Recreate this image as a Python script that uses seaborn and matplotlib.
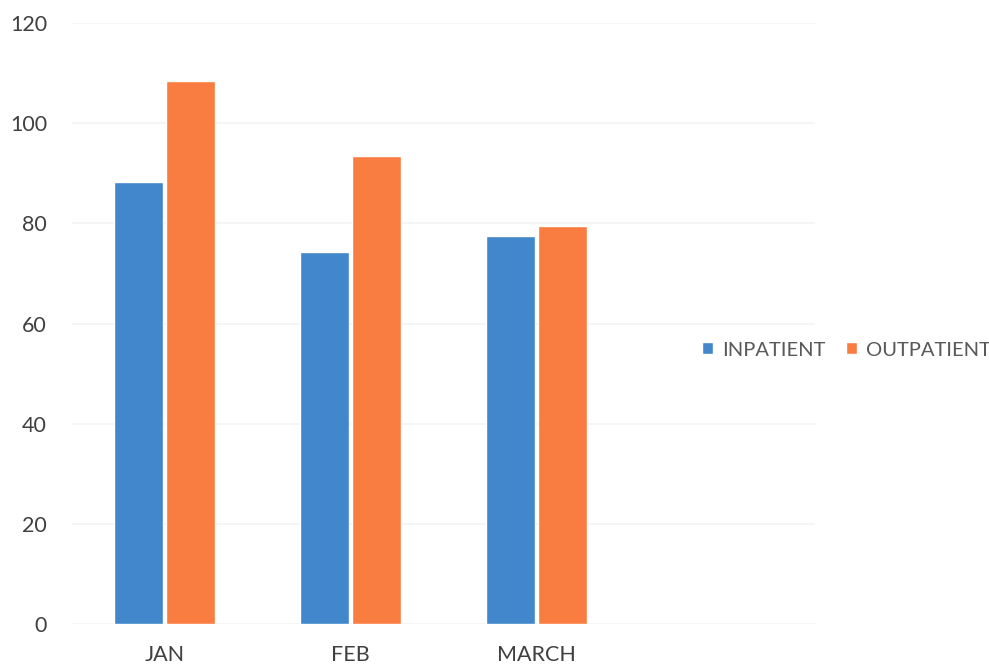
import matplotlib
matplotlib.use("Agg")
import matplotlib.pyplot as plt
import seaborn as sns
import pandas as pd

months = ["JAN", "FEB", "MARCH"]
inpatient = [88.2, 74.2, 77.4]
outpatient = [108.5, 93.4, 79.4]
series_names = ["INPATIENT", "OUTPATIENT"]
y_ticks = [0, 20, 40, 60, 80, 100, 120]

df = pd.DataFrame({
    "month": months * 2,
    "count": inpatient + outpatient,
    "type": [series_names[0]] * len(months) + [series_names[1]] * len(months),
})

sns.set_theme(style="white")
plt.rcParams["font.family"] = ["Lato", "DejaVu Sans"]

fig = plt.figure(figsize=(9.89, 6.67), dpi=100)
ax = fig.add_axes([72 / 989, (667 - 624) / 667, (815 - 72) / 989, (624 - 23) / 667])

palette = {"INPATIENT": "#4286CC", "OUTPATIENT": "#F97C40"}
sns.barplot(data=df, x="month", y="count", hue="type", palette=palette,
            width=0.56, gap=0.06, saturation=1, ax=ax, legend=True)

# a fourth, empty category slot keeps the bars in the left part of the plot
ax.set_xlim(-0.5, 3.5)
ax.set_ylim(0, 120)
ax.set_yticks(y_ticks)
ax.set_yticklabels([str(v) for v in y_ticks])
ax.set_xlabel("")
ax.set_ylabel("")
ax.yaxis.grid(True, color="#F3F3F3", linewidth=1.2)
ax.set_axisbelow(True)
for s in ax.spines.values():
    s.set_visible(False)
ax.tick_params(axis="y", length=0, pad=18, labelsize=15.5, labelcolor="#404040")
ax.tick_params(axis="x", length=0, pad=15, labelsize=15.5, labelcolor="#404040")

handles, labels = ax.get_legend_handles_labels()
ax.get_legend().remove()
fig.legend(handles, labels, loc="center left", bbox_to_anchor=(698 / 989, (667 - 350) / 667),
           ncol=2, frameon=False, fontsize=14.5, labelcolor="#595959",
           handlelength=0.55, handleheight=0.55, handletextpad=0.45, columnspacing=1.0,
           borderaxespad=0, borderpad=0.2)

fig.savefig("out.png", dpi=100, facecolor="white")
